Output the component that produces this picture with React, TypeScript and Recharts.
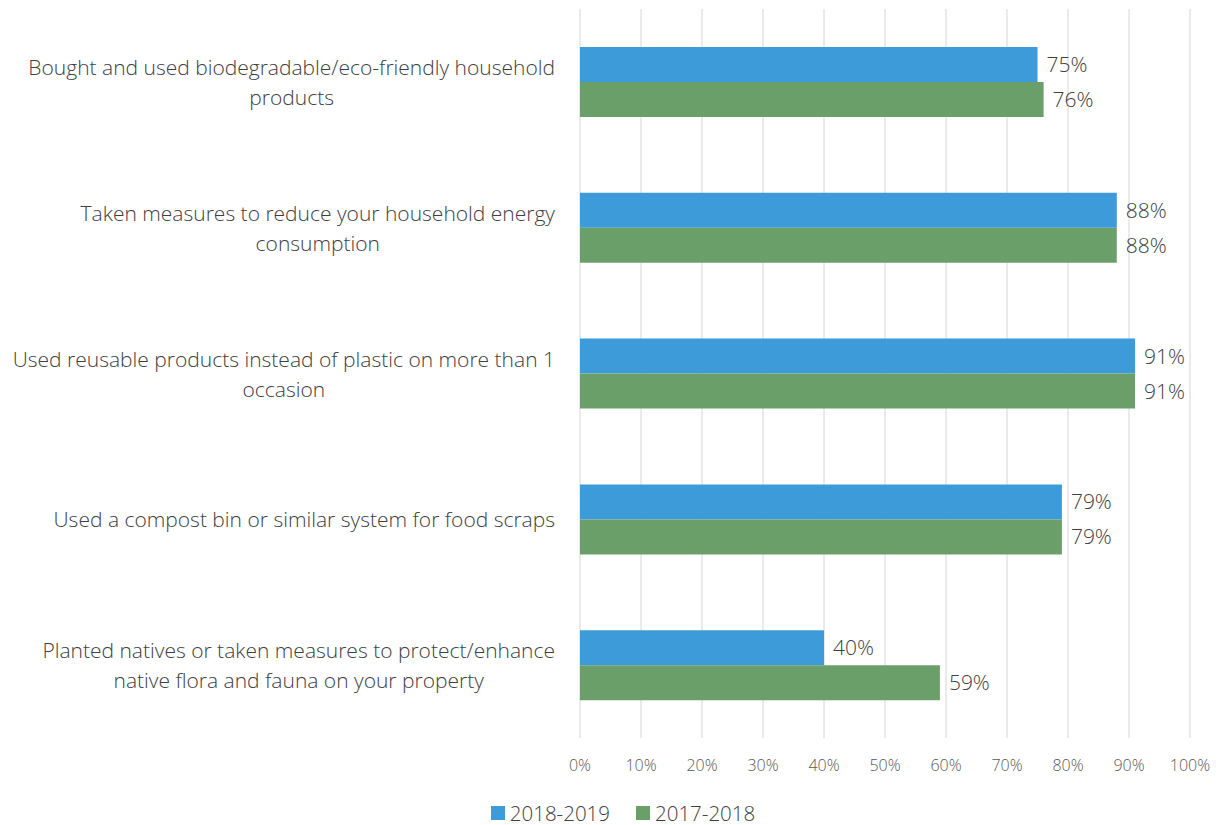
import React from 'react';
import { BarChart, Bar, XAxis, YAxis, CartesianGrid, Legend, LabelList } from 'recharts';

const categories = [
  'Bought and used biodegradable/eco-friendly household\nproducts',
  'Taken measures to reduce your household energy\nconsumption',
  'Used reusable products instead of plastic on more than 1\noccasion',
  'Used a compost bin or similar system for food scraps',
  'Planted natives or taken measures to protect/enhance\nnative flora and fauna on your property',
];
const values2018_2019 = [75, 88, 91, 79, 40];
const values2017_2018 = [76, 88, 91, 79, 59];
const xTicks = [0, 10, 20, 30, 40, 50, 60, 70, 80, 90, 100];

const BLUE = '#3d9bd9';
const GREEN = '#6b9f6a';
const FONT = '"Open Sans", "Noto Sans", sans-serif';
const TEXT = '#404040';

const data = categories.map((name, i) => ({
  name,
  y2019: values2018_2019[i],
  y2018: values2017_2018[i],
}));

let canvas: HTMLCanvasElement | null = null;
const measure = (s: string, size: number) => {
  if (!canvas) canvas = document.createElement('canvas');
  const ctx = canvas.getContext('2d')!;
  ctx.font = `300 ${size}px ${FONT}`;
  return ctx.measureText(s).width;
};

const CategoryTick = (props: any) => {
  const { x, y, payload } = props;
  const lines: string[] = String(payload.value).split('\n');
  const size = 21;
  const widest = Math.max(...lines.map((l) => measure(l, size)));
  const rightEdge = x - 17;
  const cx = rightEdge - widest / 2;
  const lh = 30;
  const top = y - ((lines.length - 1) * lh) / 2;
  return (
    <text x={cx} y={top} textAnchor="middle" fill={TEXT} fontSize={size} fontWeight={300} fontFamily={FONT} dominantBaseline="central">
      {lines.map((l, i) => (
        <tspan key={i} x={cx} y={top + i * lh}>
          {l}
        </tspan>
      ))}
    </text>
  );
};

const LegendContent = () => (
  <div
    style={{
      height: 42,
      paddingTop: 21,
      display: 'flex',
      justifyContent: 'center',
      alignItems: 'flex-start',
      paddingLeft: 56,
      boxSizing: 'border-box',
      fontFamily: FONT,
      fontWeight: 300,
      fontSize: 20.5,
      color: TEXT,
    }}
  >
    {[
      { label: '2018-2019', color: BLUE },
      { label: '2017-2018', color: GREEN },
    ].map((it, i) => (
      <div key={it.label} style={{ display: 'flex', alignItems: 'center', marginLeft: i ? 26 : 0, lineHeight: '18px', height: 18 }}>
        <span style={{ width: 14, height: 14, background: it.color, display: 'inline-block', marginRight: 5 }} />
        <span>{it.label}</span>
      </div>
    ))}
  </div>
);

export default function App() {
  return (
    <div style={{ position: 'absolute', left: 0, top: 0, width: 1218, height: 825, background: '#fff' }}>
      <BarChart
        width={1218}
        height={825}
        data={data}
        layout="vertical"
        margin={{ top: 9, right: 28, bottom: 0, left: 0 }}
        barGap={0}
        barSize={35}
      >
        <CartesianGrid horizontal={false} vertical stroke="#d6d6dc" />
        <XAxis
          type="number"
          domain={[0, 100]}
          ticks={xTicks}
          tickFormatter={(v) => `${v}%`}
          axisLine={false}
          tickLine={false}
          tickMargin={16}
          height={45}
          tick={{ fill: '#595959', fontSize: 16, fontWeight: 300, fontFamily: FONT }}
          interval={0}
        />
        <YAxis type="category" dataKey="name" width={580} axisLine={false} tickLine={false} tick={<CategoryTick />} interval={0} />
        <Legend verticalAlign="bottom" content={<LegendContent />} />
        <Bar dataKey="y2019" name="2018-2019" fill={BLUE} isAnimationActive={false}>
          <LabelList
            dataKey="y2019"
            position="right"
            offset={9}
            formatter={(v: any) => `${v}%`}
            style={{ fill: TEXT, fontSize: 21, fontWeight: 300, fontFamily: FONT }}
          />
        </Bar>
        <Bar dataKey="y2018" name="2017-2018" fill={GREEN} isAnimationActive={false}>
          <LabelList
            dataKey="y2018"
            position="right"
            offset={9}
            formatter={(v: any) => `${v}%`}
            style={{ fill: TEXT, fontSize: 21, fontWeight: 300, fontFamily: FONT }}
          />
        </Bar>
      </BarChart>
    </div>
  );
}
